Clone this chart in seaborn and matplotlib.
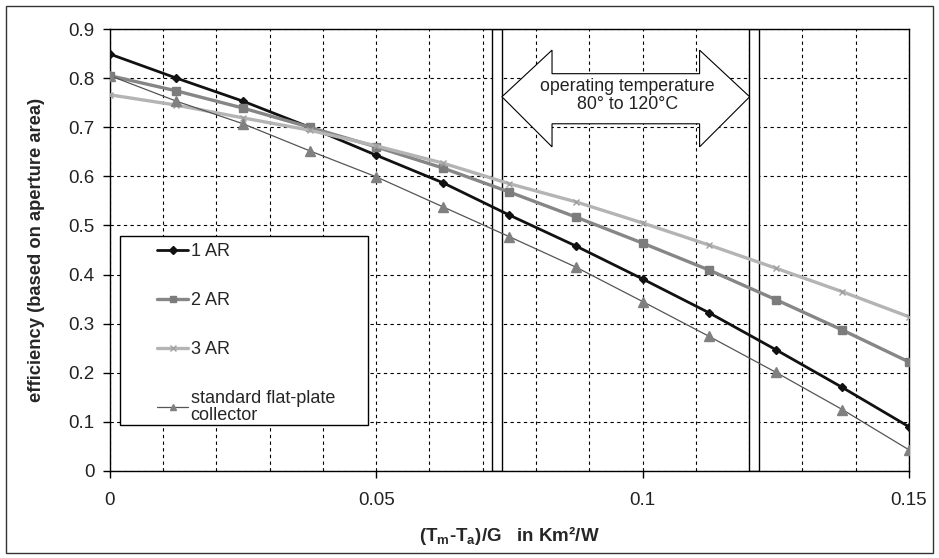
import numpy as np
import pandas as pd
import matplotlib.pyplot as plt
import matplotlib.patches as mpatches
from matplotlib.ticker import MultipleLocator, FuncFormatter
import seaborn as sns

# data
x_vals = [0, 0.0125, 0.025, 0.0375, 0.05, 0.0625, 0.075, 0.0875, 0.1, 0.1125, 0.125, 0.1375, 0.15]
ar1 = [0.849, 0.80, 0.753, 0.70, 0.643, 0.587, 0.521, 0.458, 0.391, 0.322, 0.247, 0.17, 0.09]
ar2 = [0.805, 0.774, 0.739, 0.70, 0.66, 0.617, 0.568, 0.517, 0.464, 0.409, 0.349, 0.287, 0.222]
ar3 = [0.766, 0.745, 0.719, 0.694, 0.662, 0.627, 0.585, 0.548, 0.505, 0.46, 0.413, 0.365, 0.314]
std = [0.805, 0.753, 0.707, 0.652, 0.599, 0.538, 0.477, 0.415, 0.345, 0.274, 0.201, 0.125, 0.043]

serien = {
    '1 AR': ar1,
    '2 AR': ar2,
    '3 AR': ar3,
    'standard flat-plate\ncollector': std,
}
estilos = {
    '1 AR': dict(color='#111111', lw=2.0, marker='D', ms=4.5, mfc='#111111', mec='#111111'),
    '2 AR': dict(color='#868686', lw=2.4, marker='s', ms=6, mfc='#7c7c7c', mec='#7c7c7c'),
    '3 AR': dict(color='#b4b4b4', lw=2.4, marker='x', ms=4, mfc='#a0a0a0', mec='#a0a0a0'),
    'standard flat-plate\ncollector': dict(color='#555555', lw=0.9, marker='^', ms=6.5, mfc='#808080', mec='#808080'),
}

df = pd.DataFrame({'x': x_vals, **serien})

sns.set_style('white')
plt.rcParams['font.family'] = ['Liberation Sans', 'DejaVu Sans']

fig = plt.figure(figsize=(9.39, 5.58), dpi=100)
ax = fig.add_axes([0.117, 0.156, 0.851, 0.792])

# operating temperature band borders (narrow double lines)
ax.axvspan(0.0717, 0.0736, facecolor='white', edgecolor='black', lw=1.0, zorder=1.5)
ax.axvspan(0.1200, 0.1218, facecolor='white', edgecolor='black', lw=1.0, zorder=1.5)

for nome, vals in serien.items():
    e = estilos[nome]
    sns.lineplot(data=df, x='x', y=nome, ax=ax, label=nome, color=e['color'], lw=e['lw'],
                 marker=e['marker'], markersize=e['ms'], markerfacecolor=e['mfc'],
                 markeredgecolor=e['mec'], markeredgewidth=1.0, zorder=3)

# double arrow
x0, x1, hl = 0.0736, 0.1201, 0.0094
yc, bt, bb, ht, hb = 0.762, 0.809, 0.707, 0.857, 0.660
seta = mpatches.Polygon([(x0, yc), (x0 + hl, ht), (x0 + hl, bt), (x1 - hl, bt), (x1 - hl, ht),
                         (x1, yc), (x1 - hl, hb), (x1 - hl, bb), (x0 + hl, bb), (x0 + hl, hb)],
                        closed=True, facecolor='white', edgecolor='black', lw=0.8, zorder=4)
ax.add_patch(seta)
ax.text(0.0972, 0.764, 'operating temperature\n80° to 120°C', ha='center', va='center',
        fontsize=12.8, color='#222222', linespacing=1.05, zorder=5)

ax.set_xlim(0, 0.15)
ax.set_ylim(0, 0.9)
ax.xaxis.set_major_locator(MultipleLocator(0.05))
ax.xaxis.set_minor_locator(MultipleLocator(0.01))
ax.yaxis.set_major_locator(MultipleLocator(0.1))
fmt = FuncFormatter(lambda v, p: f'{v:g}')
ax.xaxis.set_major_formatter(fmt)
ax.yaxis.set_major_formatter(fmt)
ax.tick_params(axis='both', which='major', direction='out', length=5, width=1,
               labelsize=13.5, color='black', labelcolor='#222222', bottom=True, left=True)
ax.tick_params(axis='x', which='major', pad=10)
ax.tick_params(axis='y', which='major', pad=6)
ax.tick_params(axis='x', which='minor', length=0)
ax.grid(True, which='both', color='black', ls=(0, (3, 3)), lw=0.8, zorder=1)
ax.set_axisbelow(True)
for s in ax.spines.values():
    s.set_color('black')
    s.set_linewidth(1.0)

ax.set_xlabel('(T$_\\mathregular{m}$-T$_\\mathregular{a}$)/G   in Km²/W', fontsize=13.5,
              fontweight='bold', labelpad=11)
ax.set_ylabel('efficiency (based on aperture area)', fontsize=13.2, fontweight='bold', labelpad=17)

# legend box drawn separately, legend entries on top without frame
caixa = mpatches.Rectangle((0.0125, 0.104), 0.3105, 0.428, transform=ax.transAxes,
                           facecolor='white', edgecolor='black', lw=1.0, zorder=2.5)
ax.add_patch(caixa)
leg = ax.legend(loc='upper left', bbox_to_anchor=(0.0588, 0.516), fontsize=13,
                frameon=False, labelspacing=1.78, handlelength=1.75, handletextpad=0.12,
                borderpad=0, borderaxespad=0)
leg.set_zorder(6)
leg.get_texts()[-1].set_linespacing(0.95)
for h in leg.get_lines():
    h.set_markersize(4)

# outer frame around the whole chart
fig.patches.append(mpatches.Rectangle((0.006, 0.009), 0.988, 0.98, transform=fig.transFigure,
                                      fill=False, edgecolor='#333333', lw=1.0))

fig.savefig('out.png', dpi=100)
